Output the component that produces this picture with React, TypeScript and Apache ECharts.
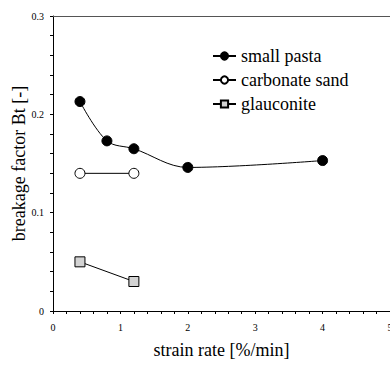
import React, { useEffect, useRef } from "react";
import * as echarts from "echarts";

const pastaX = [0.4, 0.8, 1.2, 2, 4];
const pastaY = [0.213, 0.173, 0.165, 0.146, 0.153];
const sandX = [0.4, 1.2];
const sandY = [0.14, 0.14];
const glauX = [0.4, 1.2];
const glauY = [0.05, 0.03];
const seriesNames = ["small pasta", "carbonate sand", "glauconite"];
const xTitle = "strain rate [%/min]";
const yTitle = "breakage factor Bt [-]";

const FONT = "Liberation Serif";

function pairs(xs: number[], ys: number[]) {
  return xs.map((x, i) => [x, ys[i]]);
}

export default function App() {
  const ref = useRef<HTMLDivElement>(null);
  useEffect(() => {
    if (!ref.current) return;
    const chart = echarts.init(ref.current, undefined, { renderer: "svg" });
    chart.setOption({
      animation: false,
      backgroundColor: "#fff",
      textStyle: { fontFamily: FONT },
      grid: {
        left: 53,
        right: 0,
        top: 16,
        bottom: 56,
        containLabel: false,
        outerBoundsMode: "none",
      },
      legend: {
        orient: "vertical",
        left: 207,
        top: 42,
        itemWidth: 23,
        itemHeight: 9,
        itemGap: 6,
        data: seriesNames,
        textStyle: { fontFamily: FONT, fontSize: 18, color: "#000" },
      },
      xAxis: [
        {
          type: "value",
          min: 0,
          max: 5,
          interval: 1,
          name: xTitle,
          nameLocation: "middle",
          nameGap: 30,
          nameTextStyle: { fontFamily: FONT, fontSize: 18, color: "#000" },
          axisLine: { show: true, onZero: false, lineStyle: { color: "#000", width: 1 } },
          axisTick: { show: true, length: 3, lineStyle: { color: "#000" } },
          minorTick: { show: true, splitNumber: 5, length: 3, lineStyle: { color: "#000" } },
          axisLabel: { fontFamily: FONT, fontSize: 10, color: "#000", margin: 11 },
          splitLine: { show: false },
        },
        {
          type: "value",
          position: "top",
          min: 0,
          max: 5,
          axisLine: { show: true, onZero: false, lineStyle: { color: "#555", width: 1 } },
          axisTick: { show: false },
          axisLabel: { show: false },
          splitLine: { show: false },
        },
      ],
      yAxis: {
        type: "value",
        min: 0,
        max: 0.3,
        interval: 0.1,
        name: yTitle,
        nameLocation: "middle",
        nameGap: 25,
        nameMoveOverlap: false,
        nameTextStyle: { fontFamily: FONT, fontSize: 18, color: "#000" },
        axisLine: { show: true, onZero: false, lineStyle: { color: "#000", width: 1 } },
        axisTick: { show: true, length: 3, lineStyle: { color: "#000" } },
        minorTick: { show: true, splitNumber: 5, length: 3, lineStyle: { color: "#000" } },
        axisLabel: { fontFamily: FONT, fontSize: 10, color: "#000", margin: 9 },
        splitLine: { show: false },
      },
      series: [
        {
          name: seriesNames[0],
          type: "line",
          smooth: 0.35,
          data: pairs(pastaX, pastaY),
          symbol: "circle",
          symbolSize: 10,
          lineStyle: { color: "#000", width: 1 },
          itemStyle: { color: "#000", borderColor: "#000", borderWidth: 1 },
        },
        {
          name: seriesNames[1],
          type: "line",
          data: pairs(sandX, sandY),
          symbol: "circle",
          symbolSize: 10,
          lineStyle: { color: "#000", width: 1 },
          itemStyle: { color: "#fff", borderColor: "#000", borderWidth: 1 },
        },
        {
          name: seriesNames[2],
          type: "line",
          data: pairs(glauX, glauY),
          symbol: "rect",
          symbolSize: 10,
          lineStyle: { color: "#000", width: 1 },
          itemStyle: { color: "#d3d3d3", borderColor: "#000", borderWidth: 1 },
        },
      ],
    });
    return () => chart.dispose();
  }, []);
  return <div ref={ref} style={{ width: 390, height: 367, position: "absolute", left: 0, top: 0 }} />;
}
